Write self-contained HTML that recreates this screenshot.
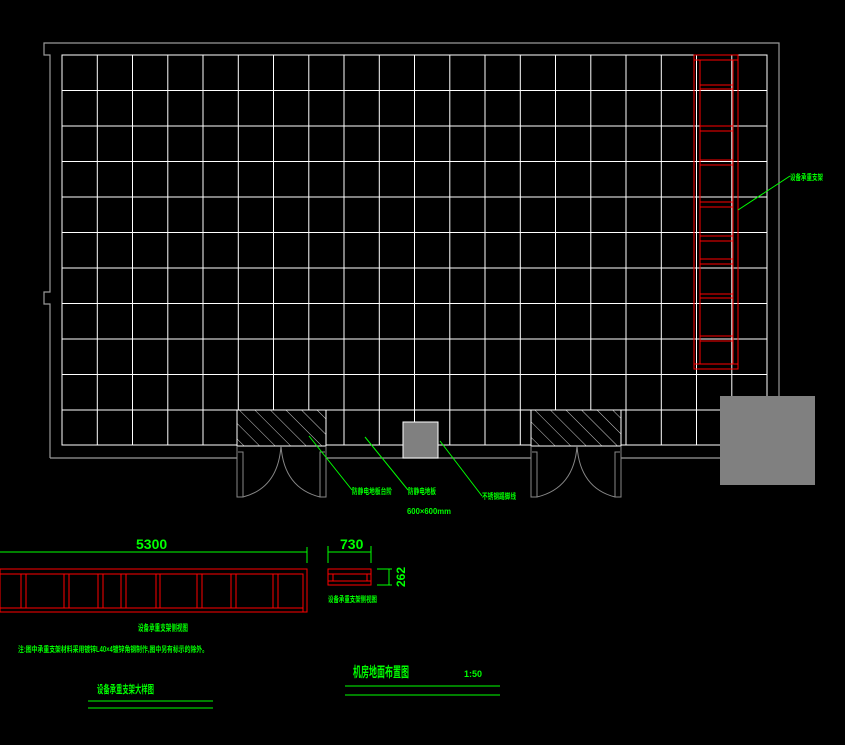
<!DOCTYPE html>
<html><head><style>html,body{margin:0;padding:0;background:#000;width:845px;height:745px;overflow:hidden}
svg{display:block}
text{font-family:"Liberation Sans","Noto Sans CJK SC",sans-serif;fill:#00ff00;font-weight:bold}
</style></head><body>
<svg width="845" height="745" viewBox="0 0 845 745" xmlns="http://www.w3.org/2000/svg">
<defs>
<pattern id="h" width="11" height="11" patternUnits="userSpaceOnUse" patternTransform="rotate(-45)">
<line x1="0" y1="0" x2="0" y2="11" stroke="#fff" stroke-width="0.8"/>
</pattern>
</defs>
<path d="M50 458 V304 H44 V292 H50 V55 H44 V43 H779 V458 H621 M531 458 H326 M237 458 H50" fill="none" stroke="#999" stroke-width="1.2"/>
<g stroke="#fff" stroke-width="1">
<rect x="62" y="55" width="705" height="390" fill="none"/>
<path d="M97.3 55V445M132.5 55V445M167.8 55V445M203 55V445M238.3 55V445M273.5 55V445M308.8 55V445M344 55V445M379.3 55V445M414.5 55V445M449.8 55V445M485 55V445M520.3 55V445M555.5 55V445M590.8 55V445M626 55V445M661.3 55V445M696.5 55V445M731.8 55V445"/>
<path d="M62 90.5H767M62 126H767M62 161.5H767M62 197H767M62 232.5H767M62 268H767M62 303.5H767M62 339H767M62 374.5H767M62 410H767"/>
</g>
<rect x="237" y="410" width="89" height="36" fill="#000"/>
<rect x="531" y="410" width="90" height="36" fill="#000"/>
<rect x="237" y="410" width="89" height="36" fill="url(#h)" stroke="#fff"/>
<rect x="531" y="410" width="90" height="36" fill="url(#h)" stroke="#fff"/>
<rect x="403" y="422" width="35" height="36" fill="#808080" stroke="#fff"/>
<rect x="720" y="396" width="95" height="89" fill="#808080"/>
<g fill="none" stroke="#888" stroke-width="1">
<path d="M237 446V497H243V452H238M281 446 Q278 488 243 497M326 446V497H320V452H325M281 446 Q284 488 320 497"/>
<path d="M531 446V497H537V452H532M577 446 Q574 488 537 497M621 446V497H615V452H620M577 446 Q580 488 615 497"/>
</g>
<g fill="none" stroke="#f00" stroke-width="1">
<rect x="694" y="55" width="44" height="314"/>
<path d="M694 60H738M700 60V364M733 60V364M694 364H738"/>
<path d="M700 85H733M700 89H733M700 126H733M700 131H733M700 160H733M700 165H733M700 202H733M700 207H733M700 236H733M700 241H733M700 259H733M700 264H733M700 294H733M700 298H733M700 336H733M700 341H733"/>
</g>
<g stroke="#0f0" stroke-width="1">
<line x1="738" y1="210" x2="790" y2="176"/>
<line x1="309" y1="436" x2="352" y2="490"/>
<line x1="365" y1="437" x2="408" y2="490"/>
<line x1="440" y1="441" x2="482" y2="496"/>
</g>
<text x="790" y="180" font-size="8" textLength="33" lengthAdjust="spacingAndGlyphs">设备承重支架</text>
<text x="352" y="494" font-size="8" textLength="40" lengthAdjust="spacingAndGlyphs">防静电地板台阶</text>
<text x="408" y="494" font-size="8" textLength="28" lengthAdjust="spacingAndGlyphs">防静电地板</text>
<text x="482" y="499" font-size="8" textLength="34" lengthAdjust="spacingAndGlyphs">不锈钢踢脚线</text>
<text x="407" y="514" font-size="8" textLength="44" lengthAdjust="spacingAndGlyphs">600×600mm</text>
<g stroke="#0f0" stroke-width="1" fill="none">
<path d="M0 552H307M307 547V563M328 552H371M328 546V563M371 546V563M377 569H392M377 585H392M389 569V585"/>
</g>
<text x="136" y="549" font-size="14" font-weight="normal">5300</text>
<text x="340" y="549" font-size="14" font-weight="normal">730</text>
<text x="0" y="0" font-size="12" font-weight="normal" transform="translate(405,587) rotate(-90)">262</text>
<g stroke="#f00" stroke-width="1" fill="none">
<rect x="0" y="569" width="307" height="43"/>
<path d="M0 574H303V612M0 608H303"/>
<path d="M21 574V608M26 574V608M64 574V608M69 574V608M98 574V608M103 574V608M121 574V608M126 574V608M156 574V608M160 574V608M197 574V608M202 574V608M231 574V608M236 574V608M273 574V608M278 574V608"/>
<rect x="328" y="569" width="43" height="16"/>
<path d="M328 574H371M328 581H371M333 574V581M367 574V581"/>
</g>
<text x="328" y="602" font-size="8" textLength="49" lengthAdjust="spacingAndGlyphs">设备承重支架侧视图</text>
<text x="138" y="631" font-size="9" textLength="50" lengthAdjust="spacingAndGlyphs">设备承重支架侧视图</text>
<text x="18" y="652" font-size="8" textLength="190" lengthAdjust="spacingAndGlyphs">注:图中承重支架材料采用镀锌L40×4镀锌角钢制作,图中另有标示的除外。</text>
<text x="97" y="693" font-size="11" textLength="57" lengthAdjust="spacingAndGlyphs">设备承重支架大样图</text>
<path d="M88 701H213M88 708H213M345 686H500M345 695H500" stroke="#0f0" stroke-width="1"/>
<text x="353" y="677" font-size="14" textLength="56" lengthAdjust="spacingAndGlyphs">机房地面布置图</text>
<text x="464" y="677" font-size="9" font-weight="normal">1:50</text>
</svg>
</body></html>
